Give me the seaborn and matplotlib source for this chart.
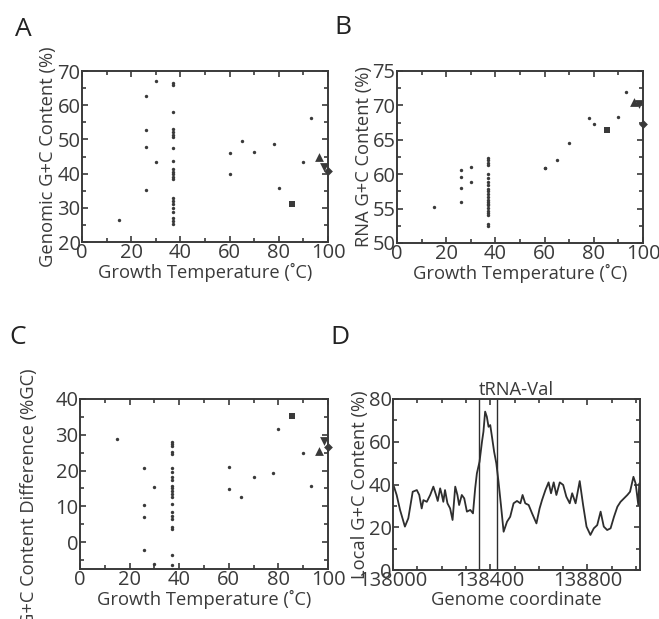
import matplotlib
matplotlib.use("Agg")
import matplotlib.pyplot as plt
import numpy as np
import pandas as pd
import seaborn as sns
from matplotlib.ticker import MultipleLocator

sns.set_style("white")
plt.rcParams['font.family'] = ['Open Sans', 'DejaVu Sans']

INK = '#3a3a3a'

# ---------------- data: panels A-C (growth temperature vs G+C) ----------------
temp_dots = [15, 26, 26, 26, 26, 30, 30] + [37] * 22 + [60, 60, 65, 70, 78, 80, 90, 93]
genomic_gc = [26.3, 62.7, 52.7, 47.7, 35.3, 67.2, 43.5,
              66.5, 65.9, 57.9, 53.0, 52.2, 51.4, 50.6, 47.6, 43.8, 41.2, 40.5,
              39.8, 39.1, 38.4, 33.0, 32.0, 31.0, 30.0, 28.8, 27.0, 26.0, 25.2,
              46.0, 39.9, 49.6, 46.3, 48.7, 35.8, 43.3, 56.3]
rna_gc = [55.2, 60.6, 59.6, 58.0, 55.9, 61.1, 58.9,
          62.3, 62.0, 61.6, 61.3, 60.1, 59.4, 58.8, 58.4, 57.9, 57.5, 57.1,
          56.7, 56.3, 55.9, 55.5, 55.1, 54.7, 54.4, 54.1, 52.8, 52.4, 55.7,
          60.9, 60.9, 62.1, 64.6, 68.1, 67.3, 68.3, 71.9]
gc_diff = [28.9, -2.1, 6.9, 10.3, 20.6, -6.1, 15.4,
           28.1, 27.5, 26.8, 25.2, 24.5, 20.8, 19.7, 18.3, 17.3, 15.7, 15.0,
           14.3, 13.5, 12.7, 10.8, 8.5, 7.4, 6.6, 4.3, 3.7, -3.6, -6.4,
           14.9, 21.0, 12.5, 18.3, 19.4, 31.5, 25.0, 15.6]

# highlighted organisms: square, up-triangle, down-triangle, diamond
special_markers = ['s', '^', 'v', 'D']
special_sizes = [22, 40, 40, 20]
special_temp = [85.3, 96.2, 98.5, 100.0]
special_genomic = [31.2, 44.9, 41.8, 40.8]
special_rna = [66.4, 70.5, 70.2, 67.3]
special_diff = [35.2, 25.6, 28.4, 26.5]

# ---------------- data: panel D (local G+C along genome) ----------------
coord = [138004, 138015, 138029, 138049, 138063, 138081, 138098, 138108, 138118, 138125,
         138139, 138153, 138166, 138177, 138184, 138194, 138201, 138207, 138214, 138224,
         138235, 138245, 138256, 138265, 138272, 138283, 138293, 138304, 138318, 138329,
         138338, 138345, 138356, 138366, 138372, 138379, 138386, 138393, 138400, 138407,
         138416, 138425, 138434, 138444, 138455, 138469, 138482, 138496, 138510, 138524,
         138533, 138544, 138558, 138572, 138590, 138603, 138613, 138627, 138640, 138650,
         138661, 138672, 138686, 138700, 138713, 138727, 138737, 138751, 138768, 138782,
         138796, 138812, 138826, 138840, 138854, 138867, 138881, 138895, 138909, 138923,
         138936, 138950, 138964, 138975, 138989, 138998, 139009, 139013]
local_gc = [39.0, 35.1, 28.1, 20.3, 24.2, 36.6, 37.4, 35.1, 28.8, 32.7,
            31.9, 35.1, 39.0, 35.1, 32.3, 38.2, 35.1, 31.9, 37.4, 31.2,
            28.8, 23.4, 39.0, 35.1, 30.4, 35.1, 33.5, 27.3, 28.1, 26.5,
            38.2, 45.2, 50.7, 60.0, 64.7, 74.1, 71.7, 67.0, 67.8, 62.4,
            55.3, 49.9, 41.3, 30.4, 17.9, 22.6, 24.9, 31.2, 32.3, 31.2,
            35.1, 31.2, 30.4, 26.5, 21.8, 28.8, 32.7, 37.4, 41.0, 35.9,
            41.0, 35.1, 41.0, 39.8, 34.3, 31.2, 35.9, 31.2, 41.6, 30.4,
            20.3, 16.4, 19.5, 21.0, 27.3, 20.3, 18.7, 19.5, 24.9, 29.6,
            31.9, 33.5, 35.1, 36.6, 43.6, 40.5, 30.4, 40.5]
trna_bounds = [138352, 138428]

W, H = 659, 619
fig = plt.figure(figsize=(W / 100, H / 100), dpi=100)

TICK_FS = 14.5
LABEL_FS = 13.2


def style_axes(ax):
    for s in ax.spines.values():
        s.set_color(INK)
        s.set_linewidth(1.4)
    ax.tick_params(which='both', direction='in', bottom=True, left=True, top=True, right=True,
                   color=INK, width=1.2, labelcolor=INK, labelsize=TICK_FS, pad=1)
    ax.tick_params(which='major', length=4)
    ax.tick_params(which='minor', length=3)


def scatter_panel(rect, y_dots, y_special, ylim, ymajor, yminor, ylabel, letter, letter_xy):
    ax = fig.add_axes(rect)
    df = pd.DataFrame({'T': temp_dots, 'v': y_dots})
    sns.scatterplot(data=df, x='T', y='v', ax=ax, s=6, color=INK, linewidth=0, marker='o')
    for m, sz, t, v in zip(special_markers, special_sizes, special_temp, y_special):
        sns.scatterplot(x=[t], y=[v], ax=ax, marker=m, s=sz, color=INK, linewidth=0,
                        clip_on=False)
    ax.set_xlim(0, 100)
    ax.set_ylim(*ylim)
    ax.xaxis.set_major_locator(MultipleLocator(20))
    ax.xaxis.set_minor_locator(MultipleLocator(10))
    ax.yaxis.set_major_locator(MultipleLocator(ymajor))
    ax.yaxis.set_minor_locator(MultipleLocator(yminor))
    ax.set_xlabel('Growth Temperature (˚C)', fontsize=LABEL_FS, color=INK, labelpad=0)
    ax.set_ylabel(ylabel, fontsize=LABEL_FS, color=INK, labelpad=0)
    style_axes(ax)
    fig.text(letter_xy[0] / W, 1 - letter_xy[1] / H, letter, fontsize=19, color='#222',
             ha='center', va='center')
    return ax


axA = scatter_panel([82 / W, 1 - 242 / H, 246 / W, 171 / H], genomic_gc, special_genomic,
                    (20, 70), 10, 5, 'Genomic G+C Content (%)', 'A', (23, 30))
axB = scatter_panel([397 / W, 1 - 243 / H, 246 / W, 172 / H], rna_gc, special_rna,
                    (50, 75), 5, 2.5, 'RNA G+C Content (%)', 'B', (343, 27))
axC = scatter_panel([80 / W, 1 - 569 / H, 248 / W, 170 / H], gc_diff, special_diff,
                    (-7.5, 40), 10, 5, 'G+C Content Difference (%GC)', 'C', (18, 337))
axC.set_yticks([0, 10, 20, 30, 40])
axC.yaxis.set_label_coords(-0.17, 0.42)

# ---------------- panel D ----------------
axD = fig.add_axes([393 / W, 1 - 570 / H, 247 / W, 171 / H])
dfD = pd.DataFrame({'coord': coord, 'gc': local_gc})
sns.lineplot(data=dfD, x='coord', y='gc', ax=axD, color='#2e2e2e', linewidth=1.3)
for b in trna_bounds:
    axD.axvline(b, color='#2e2e2e', linewidth=1.0)
axD.set_xlim(138000, 139016)
axD.set_ylim(0, 80)
axD.xaxis.set_major_locator(MultipleLocator(400))
axD.xaxis.set_minor_locator(MultipleLocator(100))
axD.yaxis.set_major_locator(MultipleLocator(20))
axD.yaxis.set_minor_locator(MultipleLocator(10))
axD.set_xlabel('Genome coordinate', fontsize=LABEL_FS, color=INK, labelpad=0)
axD.set_ylabel('Local G+C Content (%)', fontsize=LABEL_FS, color=INK, labelpad=0)
axD.set_title('tRNA-Val', fontsize=LABEL_FS, color=INK, pad=1)
style_axes(axD)
fig.text(340 / W, 1 - 337 / H, 'D', fontsize=19, color='#222', ha='center', va='center')

fig.savefig('out.png', dpi=100)
